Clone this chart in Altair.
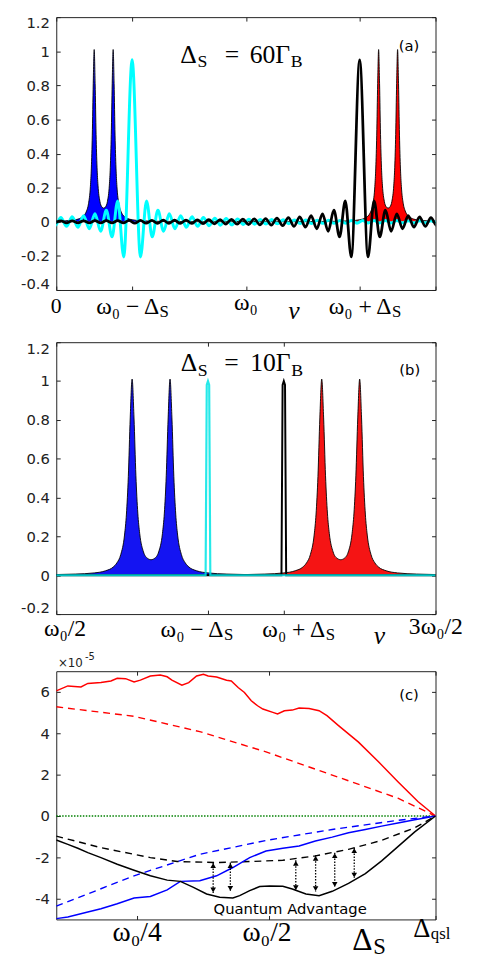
import altair as alt
import pandas as pd

# ---------------- data ----------------
# Lorentzian double-peak profile used in (a) and (b): offset from the centre of the pair (units of w0) -> height
lor_offsets = [0.0, 0.01, 0.02, 0.03, 0.035, 0.04, 0.045, 0.05, 0.055, 0.06, 0.065, 0.07, 0.08, 0.09, 0.10, 0.12, 0.15, 0.20, 0.30, 0.50, 0.80]
lor_heights = [0.080, 0.088, 0.120, 0.215, 0.320, 0.512, 0.810, 1.010, 0.810, 0.508, 0.315, 0.207, 0.106, 0.064, 0.042, 0.023, 0.012, 0.006, 0.0024, 0.0005, 0.0002]
a_pair_centres = {"blue": 0.25, "red": 1.75}
b_pair_centres = {"blue": 0.75, "red": 1.25}

# panel (a): oscillating transmission curves (centre value and successive extrema, offset from centre)
osc_peak = 0.95
osc_offsets = [0.044, 0.076, 0.106, 0.136, 0.166, 0.196, 0.226, 0.256, 0.286, 0.316, 0.346, 0.376, 0.406,
               0.436, 0.466, 0.496, 0.526, 0.556, 0.586, 0.616, 0.646, 0.676, 0.706, 0.736, 0.766, 0.796,
               0.826, 0.856, 0.886, 0.916, 0.946, 0.976, 1.006, 1.036, 1.066, 1.096, 1.126, 1.156, 1.186,
               1.216, 1.246, 1.276, 1.306, 1.336, 1.366, 1.396, 1.426, 1.456, 1.486, 1.516, 1.546, 1.576, 1.606]
osc_extrema = [-0.206, 0.122, -0.088, 0.068, -0.056, 0.047, -0.041, 0.036, -0.032, 0.029, -0.027, 0.025, -0.023,
               0.021, -0.020, 0.019, -0.018, 0.017, -0.016, 0.015, -0.014, 0.014, -0.013, 0.013, -0.012, 0.012,
               -0.011, 0.011, -0.010, 0.010, -0.010, 0.009, -0.009, 0.009, -0.009, 0.008, -0.008, 0.008, -0.008,
               0.008, -0.007, 0.007, -0.007, 0.007, -0.007, 0.007, -0.006, 0.006, -0.006, 0.006, -0.006, 0.006, -0.006]
a_osc_centres = {"cyan": 0.4, "black": 1.6}

# panel (b): very narrow transmission spikes
spike_offsets = [-0.0062, -0.0032, 0.0, 0.0032, 0.0062]
spike_heights = [0.0, 0.98, 1.0, 0.98, 0.0]
b_spike_centres = {"cyan": 0.9, "black": 1.1}

# panel (c): curves (x in units of w0, y in units of 1e-5)
c_red_x = [0.096, 0.118, 0.143, 0.156, 0.181, 0.200, 0.212, 0.228, 0.244, 0.256, 0.275, 0.294, 0.307, 0.316,
           0.335, 0.348, 0.363, 0.376, 0.385, 0.401, 0.420, 0.429, 0.442, 0.454, 0.467, 0.479, 0.489, 0.508,
           0.517, 0.530, 0.545, 0.558, 0.577, 0.596, 0.611, 0.633, 0.671, 0.709, 0.746, 0.784, 0.8175]
c_red_y = [6.05, 6.29, 6.24, 6.41, 6.45, 6.53, 6.66, 6.64, 6.48, 6.57, 6.77, 6.82, 6.73, 6.57,
           6.32, 6.45, 6.77, 6.85, 6.77, 6.72, 6.56, 6.53, 6.21, 5.97, 5.57, 5.33, 5.17, 5.01,
           4.93, 5.09, 5.12, 5.22, 5.20, 5.09, 4.85, 4.37, 3.57, 2.62, 1.66, 0.70, 0.0]
c_red_dash_x = [0.096, 0.244, 0.369, 0.495, 0.621, 0.746, 0.8175]
c_red_dash_y = [5.28, 4.82, 4.08, 3.10, 1.98, 0.86, 0.0]
c_blue_dash_x = [0.096, 0.244, 0.369, 0.495, 0.621, 0.746, 0.8175]
c_blue_dash_y = [-4.36, -2.89, -1.85, -1.18, -0.65, -0.21, 0.0]
c_black_dash_x = [0.096, 0.181, 0.275, 0.326, 0.401, 0.464, 0.527, 0.589, 0.652, 0.715, 0.778, 0.8175]
c_black_dash_y = [-0.97, -1.53, -2.01, -2.20, -2.25, -2.20, -2.14, -1.93, -1.61, -1.18, -0.57, 0.0]
c_blue_x = [0.096, 0.118, 0.156, 0.181, 0.212, 0.244, 0.275, 0.307, 0.332, 0.369, 0.401, 0.432, 0.464,
            0.495, 0.527, 0.558, 0.589, 0.621, 0.652, 0.684, 0.715, 0.746, 0.778, 0.8175]
c_blue_y = [-4.96, -4.88, -4.64, -4.48, -4.24, -3.96, -3.89, -3.57, -3.16, -3.13, -2.89, -2.49, -2.01,
            -1.69, -1.56, -1.45, -1.21, -1.02, -0.81, -0.65, -0.49, -0.34, -0.18, 0.0]
c_black_x = [0.096, 0.118, 0.137, 0.156, 0.181, 0.212, 0.244, 0.275, 0.307, 0.332, 0.357, 0.382, 0.407,
             0.432, 0.445, 0.464, 0.483, 0.502, 0.527, 0.545, 0.571, 0.596, 0.621, 0.652, 0.684, 0.715,
             0.746, 0.778, 0.8175]
c_black_y = [-1.16, -1.37, -1.56, -1.77, -2.01, -2.33, -2.62, -2.89, -3.10, -3.16, -3.45, -3.77, -3.93,
             -3.96, -3.85, -3.61, -3.41, -3.38, -3.40, -3.53, -3.77, -3.85, -3.64, -3.26, -2.78, -2.17,
             -1.48, -0.77, 0.0]
arrow_x = [0.3945, 0.4272, 0.5517, 0.5894, 0.6258, 0.6629]
arrow_top = [-2.25, -2.25, -2.14, -1.90, -1.77, -1.53]
arrow_bottom = [-3.72, -3.64, -3.61, -3.65, -3.45, -3.00]

# axes ranges / ticks
a_xdom, a_ydom = [0, 2], [-0.4, 1.2]
b_xdom, b_ydom = [0.5, 1.5], [-0.2, 1.2]
c_xdom, c_ydom = [0.096, 0.8175], [-5, 7]
a_xticks = [0, 0.4, 1.0, 1.6, 2.0]
b_xticks = [0.5, 0.9, 1.1, 1.5]
c_xticks = [0.25, 0.5, 0.8175]
a_yticks = [-0.4, -0.2, 0, 0.2, 0.4, 0.6, 0.8, 1, 1.2]
b_yticks = [-0.2, 0, 0.2, 0.4, 0.6, 0.8, 1, 1.2]
c_yticks = [-4, -2, 0, 2, 4, 6]

SERIF = "Liberation Serif"
SANS = "DejaVu Sans"
W = 385


# ---------------- helpers ----------------
def pair_profile(centre):
    xs = [centre - o for o in reversed(lor_offsets[1:])] + [centre + o for o in lor_offsets]
    ys = list(reversed(lor_heights[1:])) + lor_heights
    return pd.DataFrame({"x": xs, "y": ys})


def osc_curve(centre):
    xs = [centre - o for o in reversed(osc_offsets)] + [centre] + [centre + o for o in osc_offsets]
    ys = list(reversed(osc_extrema)) + [osc_peak] + osc_extrema
    return pd.DataFrame({"x": xs, "y": ys})


def spike_curve(centre, lo, hi):
    xs = [lo] + [centre + o for o in spike_offsets] + [hi]
    ys = [0.0] + spike_heights + [0.0]
    return pd.DataFrame({"x": xs, "y": ys})


def axes(xticks, yticks):
    common = dict(offset=-4, tickSize=4, domain=False, grid=False, title=None,
                  tickColor="#222", tickWidth=1)
    px = alt.Axis(orient="bottom", values=xticks, labels=False, **common)
    py = alt.Axis(orient="left", values=yticks, labelPadding=7, labelExpr="'' + datum.value",
                  labelFont=SANS, labelFontSize=15, labelColor="#222", labelOverlap=False,
                  labelFlush=True, labelFlushOffset=1, **common)
    sx = alt.Axis(orient="top", values=xticks, labels=False, **common)
    sy = alt.Axis(orient="right", values=yticks, labels=False, **common)
    return px, py, sx, sy


def enc(xs, ys, xaxis=None, yaxis=None):
    return dict(x=alt.X("x:Q", scale=xs, axis=xaxis), y=alt.Y("y:Q", scale=ys, axis=yaxis))


def txt(text, x, y, xs, ys, size, align="center", font=SERIF, style="normal",
        baseline="alphabetic", color="black"):
    return alt.Chart(pd.DataFrame({"t": [text]})).mark_text(
        align=align, baseline=baseline, font=font, fontSize=size, fontStyle=style, color=color
    ).encode(x=alt.XDatum(x, scale=xs, axis=None), y=alt.YDatum(y, scale=ys, axis=None), text="t:N")


def panel(layers, h):
    return alt.layer(*layers).resolve_scale(x="shared", y="shared").resolve_axis(
        x="independent", y="independent"
    ).properties(width=W, height=h, view=alt.ViewBackground(stroke="#222", strokeWidth=1))


# ---------------- panel (a) ----------------
xa = alt.Scale(domain=a_xdom, nice=False, zero=False)
ya = alt.Scale(domain=a_ydom, nice=False, zero=False)
pxa, pya, sxa, sya = axes(a_xticks, a_yticks)

blue_a = pair_profile(a_pair_centres["blue"])
red_a = pair_profile(a_pair_centres["red"])
cyan_a = osc_curve(a_osc_centres["cyan"])
black_a = osc_curve(a_osc_centres["black"])

layers_a = [
    alt.Chart(blue_a).mark_area(color="#0000ff", interpolate="monotone", clip=True).encode(
        **enc(xa, ya, pxa, pya), y2=alt.Y2Datum(0)),
    alt.Chart(red_a).mark_area(color="#ff0000", interpolate="monotone", clip=True).encode(
        **enc(xa, ya, sxa, sya), y2=alt.Y2Datum(0)),
    alt.Chart(blue_a).mark_line(color="black", strokeWidth=0.9, interpolate="monotone", clip=True).encode(**enc(xa, ya)),
    alt.Chart(red_a).mark_line(color="black", strokeWidth=0.9, interpolate="monotone", clip=True).encode(**enc(xa, ya)),
    alt.Chart(cyan_a).mark_line(color="#00ffff", strokeWidth=3, interpolate="monotone", clip=True).encode(**enc(xa, ya)),
    alt.Chart(black_a).mark_line(color="black", strokeWidth=2.8, interpolate="monotone", clip=True).encode(**enc(xa, ya)),
    # tick labels
    txt("0", 0.0, -0.533, xa, ya, 22),
    txt("ω₀ − Δ", 0.5425, -0.539, xa, ya, 24, align="right"),
    txt("S", 0.545, -0.556, xa, ya, 17, align="left"),
    txt("ω₀", 1.0, -0.516, xa, ya, 24),
    txt("ω₀ + Δ", 1.768, -0.539, xa, ya, 24, align="right"),
    txt("S", 1.770, -0.556, xa, ya, 17, align="left"),
    txt("ν", 1.254, -0.568, xa, ya, 26, style="italic"),
    # annotation
    txt("Δ", 0.741, 0.934, xa, ya, 26, align="right"),
    txt("S", 0.745, 0.908, xa, ya, 18, align="left"),
    txt("=", 0.926, 0.934, xa, ya, 26),
    txt("60Γ", 1.233, 0.934, xa, ya, 26, align="right"),
    txt("B", 1.236, 0.908, xa, ya, 18, align="left"),
    txt("(a)", 1.86, 1.032, xa, ya, 15, font=SANS, baseline="middle"),
]
pa = panel(layers_a, 277)

# ---------------- panel (b) ----------------
xb = alt.Scale(domain=b_xdom, nice=False, zero=False)
yb = alt.Scale(domain=b_ydom, nice=False, zero=False)
pxb, pyb, sxb, syb = axes(b_xticks, b_yticks)

blue_b = pair_profile(b_pair_centres["blue"])
red_b = pair_profile(b_pair_centres["red"])
cyan_b = spike_curve(b_spike_centres["cyan"], b_xdom[0], b_xdom[1])
black_b = spike_curve(b_spike_centres["black"], b_xdom[0], b_xdom[1])

layers_b = [
    alt.Chart(blue_b).mark_area(color="#1414f2", interpolate="monotone", clip=True).encode(
        **enc(xb, yb, pxb, pyb), y2=alt.Y2Datum(0)),
    alt.Chart(red_b).mark_area(color="#f51414", interpolate="monotone", clip=True).encode(
        **enc(xb, yb, sxb, syb), y2=alt.Y2Datum(0)),
    alt.Chart(blue_b).mark_line(color="black", strokeWidth=0.9, interpolate="monotone", clip=True).encode(**enc(xb, yb)),
    alt.Chart(red_b).mark_line(color="black", strokeWidth=0.9, interpolate="monotone", clip=True).encode(**enc(xb, yb)),
    alt.Chart(black_b).mark_line(color="black", strokeWidth=2, clip=True).encode(**enc(xb, yb)),
    alt.Chart(cyan_b).mark_line(color="#00e5e5", strokeWidth=2.2, opacity=0.85, clip=True).encode(**enc(xb, yb)),
    # tick labels
    txt("ω₀/2", 0.523, -0.312, xb, yb, 24),
    txt("ω₀ − Δ", 0.9408, -0.317, xb, yb, 24, align="right"),
    txt("S", 0.9425, -0.332, xb, yb, 17, align="left"),
    txt("ω₀ + Δ", 1.209, -0.317, xb, yb, 24, align="right"),
    txt("S", 1.2105, -0.332, xb, yb, 17, align="left"),
    txt("3ω₀/2", 1.5008, -0.302, xb, yb, 24),
    txt("ν", 1.352, -0.352, xb, yb, 26, style="italic"),
    # annotation
    txt("Δ", 0.8714, 1.051, xb, yb, 26, align="right"),
    txt("S", 0.873, 1.028, xb, yb, 18, align="left"),
    txt("=", 0.962, 1.051, xb, yb, 26),
    txt("10Γ", 1.118, 1.051, xb, yb, 26, align="right"),
    txt("B", 1.1195, 1.028, xb, yb, 18, align="left"),
    txt("(b)", 1.432, 1.054, xb, yb, 15, font=SANS, baseline="middle"),
]
pb = panel(layers_b, 276)

# ---------------- panel (c) ----------------
xc = alt.Scale(domain=c_xdom, nice=False, zero=False)
yc = alt.Scale(domain=c_ydom, nice=False, zero=False)
pxc, pyc, sxc, syc = axes(c_xticks, c_yticks)

df_red = pd.DataFrame({"x": c_red_x, "y": c_red_y})
df_red_d = pd.DataFrame({"x": c_red_dash_x, "y": c_red_dash_y})
df_blue = pd.DataFrame({"x": c_blue_x, "y": c_blue_y})
df_blue_d = pd.DataFrame({"x": c_blue_dash_x, "y": c_blue_dash_y})
df_black = pd.DataFrame({"x": c_black_x, "y": c_black_y})
df_black_d = pd.DataFrame({"x": c_black_dash_x, "y": c_black_dash_y})
df_zero = pd.DataFrame({"x": c_xdom, "y": [0, 0]})
df_arrows = pd.DataFrame({"x": arrow_x, "top": arrow_top, "bottom": arrow_bottom})

layers_c = [
    alt.Chart(df_zero).mark_line(color="#008000", strokeWidth=1.3, strokeDash=[1.5, 1.5]).encode(
        **enc(xc, yc, pxc, pyc)),
    alt.Chart(df_red_d).mark_line(color="#ff0000", strokeWidth=1.4, strokeDash=[7, 5], clip=True).encode(
        **enc(xc, yc, sxc, syc)),
    alt.Chart(df_blue_d).mark_line(color="#0000ff", strokeWidth=1.4, strokeDash=[7, 5], clip=True).encode(**enc(xc, yc)),
    alt.Chart(df_black_d).mark_line(color="black", strokeWidth=1.4, strokeDash=[7, 5], clip=True).encode(**enc(xc, yc)),
    alt.Chart(df_red).mark_line(color="#ff0000", strokeWidth=1.5, clip=True).encode(**enc(xc, yc)),
    alt.Chart(df_blue).mark_line(color="#0000ff", strokeWidth=1.5, clip=True).encode(**enc(xc, yc)),
    alt.Chart(df_black).mark_line(color="black", strokeWidth=1.5, clip=True).encode(**enc(xc, yc)),
    alt.Chart(df_arrows).mark_rule(color="black", strokeWidth=1.3, strokeDash=[1.5, 1.5]).encode(
        x=alt.X("x:Q", scale=xc, axis=None), y=alt.Y("top:Q", scale=yc, axis=None), y2="bottom:Q"),
    alt.Chart(df_arrows).mark_point(shape="triangle-up", filled=True, color="black", size=32, opacity=1).encode(
        x=alt.X("x:Q", scale=xc, axis=None), y=alt.Y("top:Q", scale=yc, axis=None), yOffset=alt.value(3)),
    alt.Chart(df_arrows).mark_point(shape="triangle-down", filled=True, color="black", size=32, opacity=1).encode(
        x=alt.X("x:Q", scale=xc, axis=None), y=alt.Y("bottom:Q", scale=yc, axis=None), yOffset=alt.value(-3)),
    # tick labels
    txt("ω₀/4", 0.25, -6.05, xc, yc, 28),
    txt("ω₀/2", 0.497, -6.05, xc, yc, 28),
    txt("Δ", 0.8075, -5.86, xc, yc, 27, align="right"),
    txt("qsl", 0.8085, -5.95, xc, yc, 17, align="left"),
    txt("Δ", 0.6975, -6.48, xc, yc, 32, align="right"),
    txt("S", 0.699, -6.67, xc, yc, 23, align="left"),
    # annotations
    txt("(c)", 0.767, 5.87, xc, yc, 15, font=SANS, baseline="middle"),
    txt("Quantum Advantage", 0.541, -4.48, xc, yc, 15, font=SANS, baseline="middle"),
    txt("×10", 0.0992, 7.19, xc, yc, 12, font=SANS, align="left", color="#222"),
    txt("-5", 0.1507, 7.55, xc, yc, 10, font=SANS, align="left", color="#222"),
]
pc = panel(layers_c, 252)


def spacer(h):
    return alt.Chart(pd.DataFrame({"v": [0]})).mark_point(opacity=0).encode(
        x=alt.value(0), y=alt.value(0)).properties(width=W, height=h)


chart = alt.vconcat(pa, spacer(13), pb, spacer(18), pc, spacing=20, bounds="flush").properties(
    padding={"left": 12, "top": 0, "right": 5, "bottom": 0}
).configure_view(stroke="transparent")

chart.save("out.html", embed_options={"renderer": "svg", "actions": False})
